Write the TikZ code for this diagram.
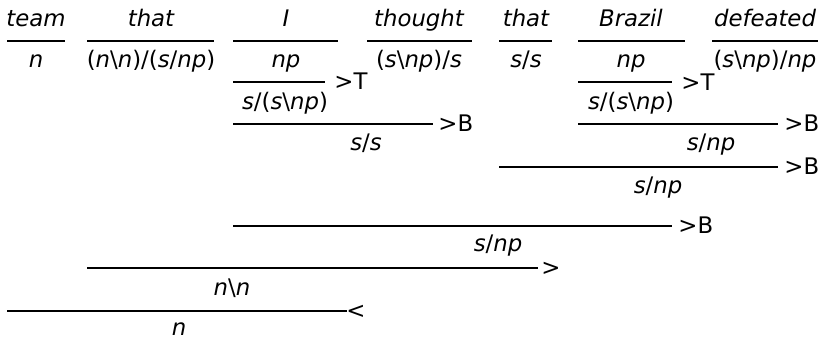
\documentclass[tikz,border=0pt]{standalone}
\usepackage{fontspec}
\setmainfont{DejaVu Sans}
\usetikzlibrary{calc}
\newcommand{\bsl}{\textbackslash}
\newcommand{\ct}[1]{\textit{#1}}
\tikzset{
word/.style={anchor=base,inner sep=0pt,font=\fontsize{11.4}{13}\selectfont\itshape},
cat/.style={anchor=base,inner sep=0pt,font=\fontsize{11.4}{13}\selectfont},
rulelbl/.style={anchor=base west,inner sep=0pt,font=\fontsize{11.4}{13}\selectfont},
ccgline/.style={line width=0.7pt,black}
}
\begin{document}
\begin{tikzpicture}[x=0.5pt,y=-0.5pt]
\useasboundingbox (0,0) rectangle (819,339);
% words
\node[word] (w1) at (36,26) {team};
\node[word] (w2) at (151,26) {that};
\node[word] (w3) at (286,26) {I};
\node[word] (w4) at (419,26) {thought};
\node[word] (w5) at (526,26) {that};
\node[word] (w6) at (631,26) {Brazil};
\node[word] (w7) at (765,26) {defeated};
% lexical rules
\coordinate (l1a) at (7,41);   \coordinate (l1b) at (65,41);
\coordinate (l2a) at (87,41);  \coordinate (l2b) at (214,41);
\coordinate (l3a) at (233,41); \coordinate (l3b) at (338,41);
\coordinate (l4a) at (367,41); \coordinate (l4b) at (472,41);
\coordinate (l5a) at (499,41); \coordinate (l5b) at (552,41);
\coordinate (l6a) at (578,41); \coordinate (l6b) at (685,41);
\coordinate (l7a) at (712,41); \coordinate (l7b) at (818,41);
\draw[ccgline] (l1a) -- (l1b); \draw[ccgline] (l2a) -- (l2b);
\draw[ccgline] (l3a) -- (l3b); \draw[ccgline] (l4a) -- (l4b);
\draw[ccgline] (l5a) -- (l5b); \draw[ccgline] (l6a) -- (l6b);
\draw[ccgline] (l7a) -- (l7b);
% categories
\node[cat] (c1) at (36,67) {\ct{n}};
\node[cat] (c2) at (151,67) {(\ct{n}\bsl\ct{n})/(\ct{s}/\ct{np})};
\node[cat] (c3) at (286,67) {\ct{np}};
\node[cat] (c4) at (419,67) {(\ct{s}\bsl\ct{np})/\ct{s}};
\node[cat] (c5) at (526,67) {\ct{s}/\ct{s}};
\node[cat] (c6) at (631,67) {\ct{np}};
\node[cat] (c7) at (765,67) {(\ct{s}\bsl\ct{np})/\ct{np}};
% type raising
\coordinate (r1a) at (233,82); \coordinate (r1b) at (325,82);
\draw[ccgline] (r1a) -- (r1b);
\node[rulelbl] (t1) at (334,89) {>T};
\node[cat] (d1) at (285,109) {\ct{s}/(\ct{s}\bsl\ct{np})};
\coordinate (r3a) at (578,82); \coordinate (r3b) at (672,82);
\draw[ccgline] (r3a) -- (r3b);
\node[rulelbl] (t3) at (681,90) {>T};
\node[cat] (d3) at (631,109) {\ct{s}/(\ct{s}\bsl\ct{np})};
% composition
\coordinate (r2a) at (233,124); \coordinate (r2b) at (433,124);
\draw[ccgline] (r2a) -- (r2b);
\node[rulelbl] (t2) at (438,131) {>B};
\node[cat] (d2) at (366,150) {\ct{s}/\ct{s}};
\coordinate (r4a) at (578,124); \coordinate (r4b) at (778,124);
\draw[ccgline] (r4a) -- (r4b);
\node[rulelbl] (t4) at (784,131) {>B};
\node[cat] (d4) at (711,150) {\ct{s}/\ct{np}};
\coordinate (r5a) at (499,167); \coordinate (r5b) at (778,167);
\draw[ccgline] (r5a) -- (r5b);
\node[rulelbl] (t5) at (784,174) {>B};
\node[cat] (d5) at (658,193) {\ct{s}/\ct{np}};
\coordinate (r6a) at (233,226); \coordinate (r6b) at (672,226);
\draw[ccgline] (r6a) -- (r6b);
\node[rulelbl] (t6) at (678,233) {>B};
\node[cat] (d6) at (498,251) {\ct{s}/\ct{np}};
% application
\coordinate (r7a) at (87,268); \coordinate (r7b) at (538,268);
\draw[ccgline] (r7a) -- (r7b);
\node[rulelbl] (t7) at (541,275) {>};
\node[cat] (d7) at (232,295) {\ct{n}\bsl\ct{n}};
\coordinate (r8a) at (7,311); \coordinate (r8b) at (347,311);
\draw[ccgline] (r8a) -- (r8b);
\node[rulelbl] (t8) at (346,318) {<};
\node[cat] (d8) at (179,335) {\ct{n}};
\end{tikzpicture}
\end{document}
